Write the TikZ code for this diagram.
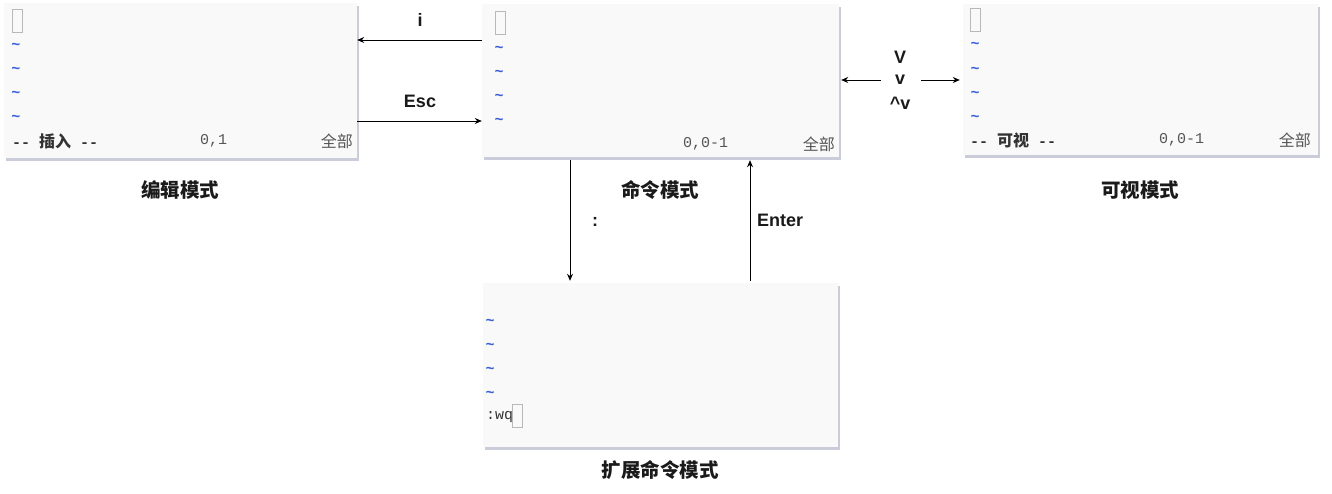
\documentclass[tikz,border=0pt]{standalone}
\usepackage{fontspec}
\setmainfont{Liberation Sans}
\setmonofont{Liberation Mono}
\newfontfamily\cjk{Noto Sans CJK SC}
\usetikzlibrary{arrows.meta,shadows}
\definecolor{boxfill}{HTML}{F9F9FA}
\definecolor{shadowc}{HTML}{C4C7D6}
\definecolor{tildec}{HTML}{3A5FD9}
\definecolor{statc}{HTML}{555555}
\definecolor{modec}{HTML}{333333}
\definecolor{curc}{HTML}{B8B8B8}
\definecolor{titlec}{HTML}{1A1A1A}
\begin{document}
\begin{tikzpicture}[x=1pt,y=-1pt,
  vbox/.style={fill=boxfill, draw=none, inner sep=0pt,
    drop shadow={shadow xshift=2pt, shadow yshift=-3pt, fill=shadowc, opacity=0.9}},
  cursorbox/.style={draw=curc, line width=0.8pt, fill=none, inner sep=0pt, minimum width=10pt, minimum height=23pt},
  tilde/.style={text=tildec, font=\ttfamily\bfseries\fontsize{15}{17}\selectfont, inner sep=0pt},
  modetxt/.style={text=modec, font=\ttfamily\bfseries\fontsize{15}{17}\selectfont, inner sep=0pt, anchor=west},
  postxt/.style={text=statc, font=\ttfamily\fontsize{15}{17}\selectfont, inner sep=0pt, anchor=west},
  alltxt/.style={text=statc, font=\cjk\fontsize{16}{18}\selectfont, inner sep=0pt, anchor=east},
  title/.style={text=titlec, font=\cjk\bfseries\fontsize{19.5}{21}\selectfont, inner sep=0pt},
  lab/.style={text=titlec, font=\bfseries\fontsize{18}{20}\selectfont, inner sep=0pt},
  arr/.style={-{Stealth[length=7pt,width=6pt]}, line width=0.9pt, black}
]
\useasboundingbox (0,0) rectangle (1332,494);

% boxes
\node[vbox, minimum width=353pt, minimum height=155pt] (box1) at (180.5,80.5) {};
\node[vbox, minimum width=357pt, minimum height=153pt] (box2) at (660.5,80.5) {};
\node[vbox, minimum width=355pt, minimum height=151pt] (box3) at (1140.5,79.5) {};
\node[vbox, minimum width=355pt, minimum height=164pt] (box4) at (660.5,365) {};

% box 1 : insert mode
\node[cursorbox] (cur1) at (17,20.5) {};
\foreach \i/\y in {1/46,2/70,3/94,4/118} \node[tilde] (ta\i) at (16,\y) {\textasciitilde};
\node[modetxt] (m1) at (12,141) {-{}- {\cjk\bfseries\fontsize{16}{18}\selectfont 插入} -{}-};
\node[postxt] (p1) at (200,141) {0,1};
\node[alltxt] (a1) at (353,141) {全部};

% box 2 : command mode
\node[cursorbox] (cur2) at (500,23) {};
\foreach \i/\y in {1/49,2/73,3/97,4/121} \node[tilde] (tb\i) at (499,\y) {\textasciitilde};
\node[postxt] (p2) at (683,144) {0,0-1};
\node[alltxt] (a2) at (835,144) {全部};

% box 3 : visual mode
\node[cursorbox] (cur3) at (975.5,19.5) {};
\foreach \i/\y in {1/45,2/70,3/94,4/118} \node[tilde] (tc\i) at (975,\y) {\textasciitilde};
\node[modetxt] (m3) at (970,140) {-{}- {\cjk\bfseries\fontsize{16}{18}\selectfont 可视} -{}-};
\node[postxt] (p3) at (1159,140) {0,0-1};
\node[alltxt] (a3) at (1311,140) {全部};

% box 4 : extended command mode
\foreach \i/\y in {1/322,2/346,3/370,4/394} \node[tilde] (td\i) at (490,\y) {\textasciitilde};
\node[postxt, text=modec] (wq) at (486,417) {:wq};
\node[cursorbox] (cur4) at (517.5,416) {};

% titles
\node[title] (t1) at (180,190) {编辑模式};
\node[title] (t2) at (660,190) {命令模式};
\node[title] (t3) at (1140,190) {可视模式};
\node[title] (t4) at (660,470) {扩展命令模式};

% connectors
\draw[arr] (box2.west |- 0,40) -- (box1.east |- 0,40);
\node[lab] (li) at (420,20) {i};
\draw[arr] (box1.east |- 0,121) -- (box2.west |- 0,121);
\node[lab] (lesc) at (420,101) {Esc};

\coordinate (vl) at (881,80);
\coordinate (vr) at (921,80);
\draw[arr] (vl) -- ([xshift=2pt]box2.east |- 0,80);
\draw[arr] (vr) -- ([xshift=-3pt]box3.west |- 0,80);
\node[lab] (lV) at (900,57) {V};
\node[lab] (lv) at (900,80) {v};
\node[lab] (lcv) at (900,103) {\^{}v};

\draw[arr] ([yshift=-3pt]box2.south -| 570,0) -- ([yshift=2pt]box4.north -| 570,0);
\node[lab] (lcolon) at (595,222) {:};
\draw[arr] ([yshift=2pt]box4.north -| 750,0) -- ([yshift=-3pt]box2.south -| 750,0);
\node[lab] (lenter) at (780,220) {Enter};
\end{tikzpicture}
\end{document}
